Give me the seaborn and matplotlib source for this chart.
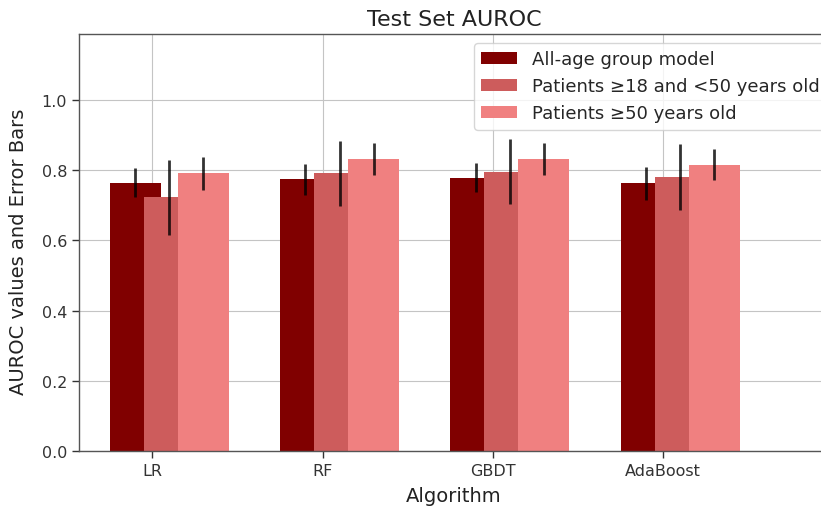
import numpy as np
import pandas as pd
import matplotlib
matplotlib.use("Agg")
import matplotlib.pyplot as plt
from matplotlib.patches import Patch
import seaborn as sns

algorithms = ["LR", "RF", "GBDT", "AdaBoost"]
series_labels = ["All-age group model",
                 "Patients \u226518 and <50 years old",
                 "Patients \u226550 years old"]
all_age = [0.765, 0.774, 0.779, 0.763]
all_age_err = [0.041, 0.043, 0.041, 0.047]
young = [0.723, 0.791, 0.796, 0.781]
young_err = [0.106, 0.092, 0.092, 0.095]
old = [0.791, 0.833, 0.833, 0.816]
old_err = [0.048, 0.046, 0.046, 0.044]
yticks = [0.0, 0.2, 0.4, 0.6, 0.8, 1.0]

colors = ["#800000", "#CD5C5C", "#F08080"]
offsets = [-0.1, 0.1, 0.3]
bar_width = 0.3

sns.set_theme(style="ticks")
plt.rcParams["font.family"] = ["DejaVu Sans"]

fig = plt.figure(figsize=(8.21, 5.10), dpi=100)
ax = fig.add_axes([79 / 821, 58 / 510, 750 / 821, 417.5 / 510])

base = np.arange(len(algorithms))
for vals, errs, col, off in zip([all_age, young, old],
                                [all_age_err, young_err, old_err],
                                colors, offsets):
    pos = base + off
    df = pd.DataFrame({"x": pos, "y": vals})
    sns.barplot(data=df, x="x", y="y", native_scale=True, width=bar_width,
                color=col, saturation=1, errorbar=None, linewidth=0, ax=ax)
    ax.errorbar(pos, vals, yerr=errs, fmt="none", ecolor="black", alpha=0.8,
                elinewidth=2, capsize=0, zorder=5)

ax.set_xlim(-0.430, 3.974)
ax.set_ylim(0, 1.19)
ax.set_xticks(base)
ax.set_xticklabels(algorithms, fontsize=11.5)
ax.set_yticks(yticks)
ax.set_yticklabels([f"{t:.1f}" for t in yticks], fontsize=11.5)
ax.set_axisbelow(True)
ax.grid(True, color="#c4c4c4", linewidth=0.8)
for s in ax.spines.values():
    s.set_color("#555555")
    s.set_linewidth(1.0)
ax.spines["right"].set_visible(False)
ax.tick_params(colors="#333333", length=5, width=1)

ax.set_xlabel("Algorithm", fontsize=14, color="#222222", labelpad=6)
ax.set_ylabel("AUROC values and Error Bars", fontsize=14, color="#222222")
ax.yaxis.set_label_coords(-0.068, 0.48)
ax.set_title("Test Set AUROC", fontsize=16, color="#222222")

handles = [Patch(facecolor=c, edgecolor="none", label=l)
           for c, l in zip(colors, series_labels)]
ax.legend(handles=handles, loc="upper left",
          bbox_to_anchor=(474 / 821, 1 - 44 / 510),
          bbox_transform=fig.transFigure, borderaxespad=0,
          fontsize=13, frameon=True, framealpha=0.8, edgecolor="#cccccc",
          fancybox=True)

fig.savefig("out.png", dpi=100)
